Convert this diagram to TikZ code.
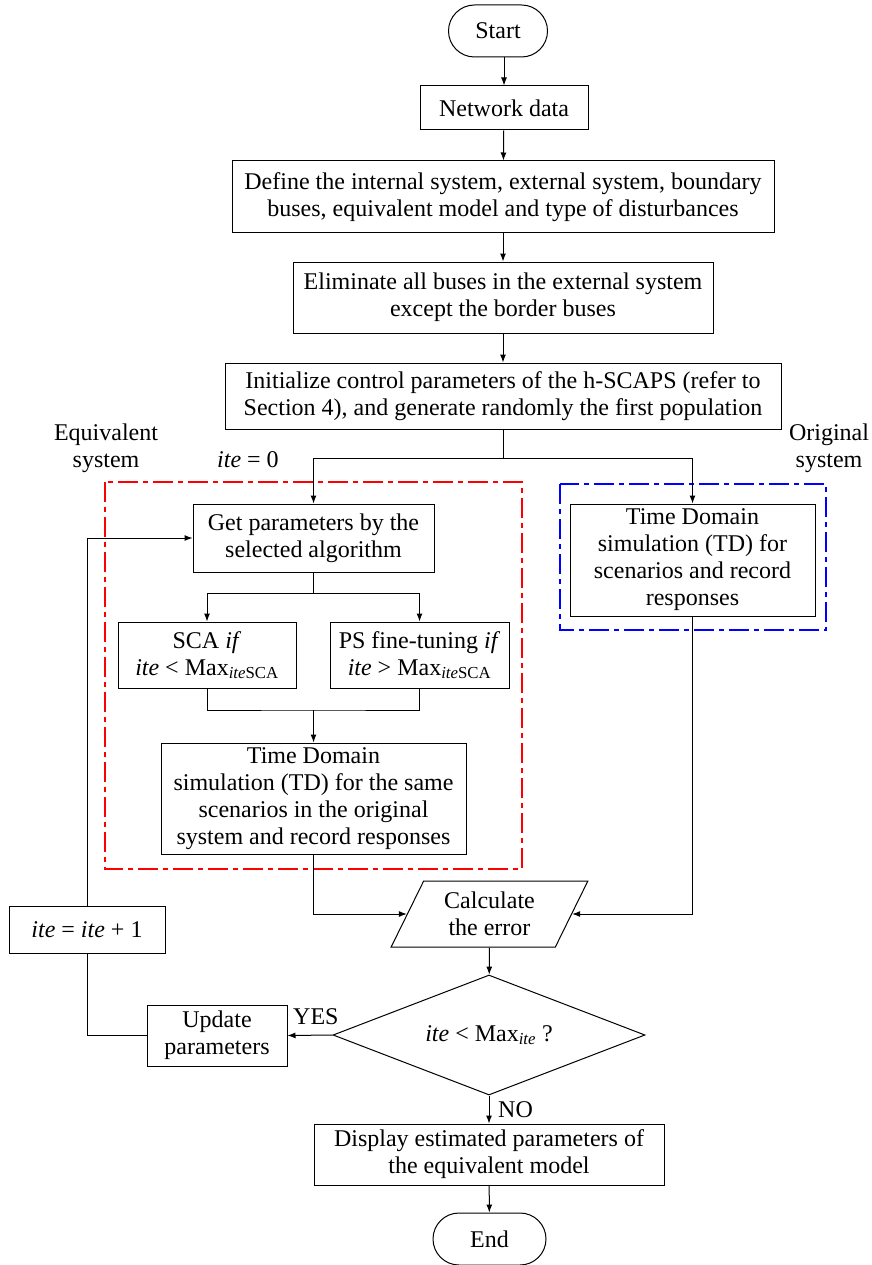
\documentclass[tikz,border=0pt]{standalone}
\usepackage{fontspec}
\setmainfont{Liberation Serif}
\usetikzlibrary{shapes.geometric, arrows.meta, positioning}

\tikzset{
    box/.style={draw, line width=1pt, align=center, inner sep=2pt},
    term/.style={box, rounded corners=26pt, minimum height=52},
    iobox/.style={box, trapezium, trapezium left angle=64, trapezium right angle=116,
        trapezium stretches=true, minimum width=197, minimum height=66},
    decision/.style={box, diamond, aspect=2.6, inner sep=0pt, minimum width=312, minimum height=120},
    flow/.style={line width=1pt, ->},
    frame/.style={line width=2pt, dash pattern=on 20pt off 5pt on 5pt off 5pt},
}

\begin{document}
\begin{tikzpicture}[x=1pt, y=-1pt, >={Latex[length=8pt, width=6pt]},
    font=\fontsize{24}{27}\selectfont]
    \useasboundingbox (0,0) rectangle (871,1265);

    % Main chain
    \node[term, minimum width=99] (start) at (498,31) {Start};
    \node[box, minimum width=168, minimum height=44] (net) at (504,108) {Network data};
    \node[box, minimum width=542, minimum height=72] (define) at (503,197)
        {Define the internal system, external system, boundary\\buses, equivalent model and type of disturbances};
    \node[box, minimum width=420, minimum height=71] (elim) at (503,297.5)
        {Eliminate all buses in the external system\\except the border buses};
    \node[box, minimum width=556, minimum height=66] (init) at (503,396)
        {Initialize control parameters of the h-SCAPS (refer to\\Section 4), and generate randomly the first population};

    % Equivalent system
    \node[box, minimum width=241, minimum height=68] (getpar) at (313.5,538)
        {Get parameters by the\\selected algorithm};
    \node[box, minimum width=178, minimum height=66] (sca) at (207,655)
        {SCA \textit{if}\\\textit{ite} < Max\textsubscript{\textit{ite}SCA}};
    \node[box, minimum width=179, minimum height=66] (ps) at (419.5,655)
        {PS fine-tuning \textit{if}\\\textit{ite} > Max\textsubscript{\textit{ite}SCA}};
    \node[box, minimum width=305, minimum height=111] (tdeq) at (313.5,798.5)
        {Time Domain\\simulation (TD) for the same\\scenarios in the original\\system and record responses};

    % Original system
    \node[box, minimum width=245, minimum height=112] (tdorig) at (692.5,560)
        {Time Domain\\simulation (TD) for\\scenarios and record\\responses};

    % Error and loop
    \node[iobox] (calc) at (489.5,914) {Calculate\\the error};
    \node[decision] (check) at (489,1035) {\textit{ite} < Max\textsubscript{\textit{ite}} ?};
    \node[box, minimum width=140, minimum height=61] (update) at (217,1035.5) {Update\\parameters};
    \node[box, minimum width=156, minimum height=47] (inc) at (87,929.5) {\textit{ite} = \textit{ite} + 1};
    \node[box, minimum width=350, minimum height=61] (display) at (489,1154.5)
        {Display estimated parameters of\\the equivalent model};
    \node[term, minimum width=113] (end) at (489.5,1239) {End};

    % Frames and labels
    \draw[frame, red] (105,482) rectangle (522,869);
    \draw[frame, blue] (560,484) rectangle (826,630);
    \node[align=center, inner sep=0pt] (eqlabel) at (106,448) {Equivalent\\system};
    \node[align=center, inner sep=0pt] (orlabel) at (829,448) {Original\\system};
    \node[anchor=base west, inner sep=0pt] (itezero) at (217,467) {\textit{ite} = 0};

    % Connectors
    \draw[flow] (start.south -| net.north) -- (net.north);
    \draw[flow] (net) -- (define);
    \draw[flow] (define) -- (elim);
    \draw[flow] (elim) -- (init);
    \coordinate (split) at (503,458);
    \draw[line width=1pt] (init.south) -- (split);
    \draw[flow] (split) -| (getpar.north);
    \draw[flow] (split) -| (tdorig.north);
    \coordinate (fork) at (313.5,593);
    \draw[line width=1pt] (getpar.south) -- (fork);
    \draw[flow] (fork) -| (sca.north);
    \draw[flow] (fork) -| (ps.north);
    \coordinate (merge) at (313.5,710);
    \draw[line width=1pt] (sca.south) |- (merge) -| (ps.south);
    \draw[flow] (merge) -- (tdeq.north);
    \draw[flow] (tdeq.south) |- (calc.west);
    \draw[flow] (tdorig.south) |- (calc.east);
    \draw[flow] (calc) -- (check);
    \draw[flow] (check.west) -- (update.east);
    \draw[flow] (check.south) -- (display.north);
    \draw[flow] (display) -- (end);
    \draw[line width=1pt] (update.west) -| (inc.south);
    \draw[flow] (inc.north) |- (getpar.west);
    \node[anchor=base west, inner sep=0pt] (yes) at (293,1024) {YES};
    \node[anchor=base west, inner sep=0pt] (no) at (498,1117) {NO};
\end{tikzpicture}
\end{document}
